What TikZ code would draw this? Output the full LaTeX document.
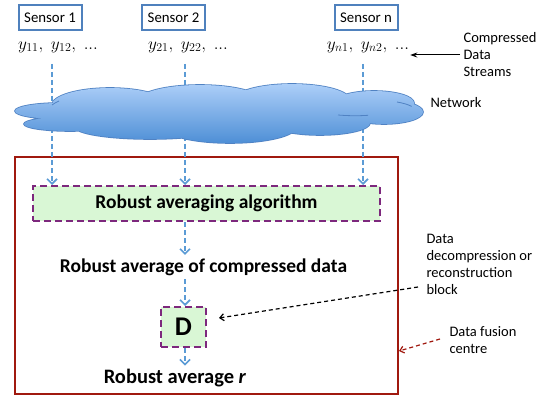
\documentclass[tikz,border=0pt]{standalone}
\usepackage{fontspec}
\setmainfont{Carlito}
\usetikzlibrary{arrows.meta,shadows}
\definecolor{sensorblue}{RGB}{79,129,189}
\definecolor{flowblue}{RGB}{91,155,213}
\definecolor{cloudtop}{RGB}{172,206,248}
\definecolor{cloudbot}{RGB}{78,143,214}
\definecolor{cloudline}{RGB}{80,130,195}
\definecolor{boxgreen}{RGB}{217,247,213}
\definecolor{boxpurple}{RGB}{125,40,125}
\definecolor{fusionred}{RGB}{160,25,15}
\newcommand{\tightdots}{{.}{.}{.}}
\begin{document}
\begin{tikzpicture}[x=1pt,y=-1pt,
  lbl/.style={font=\fontsize{14.5}{17}\selectfont},
  sensor/.style={draw=sensorblue,line width=2pt,fill=white,minimum width=63pt,
    minimum height=25pt,inner sep=0pt,font=\fontsize{14.8}{17}\selectfont,
    drop shadow={opacity=0.25,shadow xshift=1.2pt,shadow yshift=-1.2pt}},
  stream/.style={font=\fontsize{17.5}{20}\selectfont,inner sep=1pt},
  flow/.style={draw=flowblue,line width=2pt,dash pattern=on 5pt off 3pt,
    -{Straight Barb[length=5pt,width=10pt,line width=1.6pt]}},
  stage/.style={draw=boxpurple,fill=boxgreen,line width=2pt,
    dash pattern=on 7pt off 4pt},
  bold/.style={font=\fontsize{19.5}{22}\selectfont\bfseries},
  pointer/.style={line width=1.2pt,dash pattern=on 4pt off 3pt,
    -{Straight Barb[length=4pt,width=7pt]}}]
\useasboundingbox (0,0) rectangle (546,401);

% sensors and their data streams
\node[sensor] (s1) at (50,17.5) {Sensor 1};
\node[sensor] (s2) at (173.5,17.5) {Sensor 2};
\node[sensor] (sn) at (366,17.5) {Sensor n};
\node[stream] (y1) at (58,47) {$y_{11},\;y_{12},\;\tightdots$};
\node[stream] (y2) at (188,47) {$y_{21},\;y_{22},\;\tightdots$};
\node[stream] (yn) at (368,47) {$y_{n1},\;y_{n2},\;\tightdots$};

\node[lbl,anchor=west,align=left] (cds) at (460,55) {Compressed\\Data\\Streams};
\draw[-{Stealth[length=7pt,width=5pt]},line width=1pt] (cds.west) -- (cds.west -| yn.east);

% fusion centre frame
\node[draw=fusionred,line width=2pt,minimum width=383pt,minimum height=237pt,
  drop shadow={opacity=0.25,shadow xshift=1.2pt,shadow yshift=-1.2pt},fill=white]
  (fusion) at (206.5,275.5) {};

% processing stages
\node[stage,minimum width=347pt,minimum height=35pt,bold] (algo) at (206.5,203.5)
  {Robust averaging algorithm};
\node[bold] (avg) at (203.5,267) {Robust average of compressed data};
\node[stage,minimum width=45pt,minimum height=40pt,inner sep=0pt,
  font=\fontsize{27}{29}\selectfont\bfseries] (dec) at (183.5,327) {D};
\node[font=\fontsize{20.5}{23}\selectfont\bfseries] (res) at (175,378)
  {Robust average \textit{r}};

% streams travelling through the network
\coordinate (c1) at (52,64);
\coordinate (c2) at (185,64);
\coordinate (c3) at (363,64);
\draw[flow] (c1) -- (c1 |- algo.north);
\draw[flow] (c2) -- (c2 |- algo.north);
\draw[flow] (c3) -- (c3 |- algo.north);

% network cloud: union of overlapping puffs
\def\cloudpuffs{
  (60,111) ellipse [x radius=45,y radius=8]
  (70,124) ellipse [x radius=46,y radius=7]
  (110,105) ellipse [x radius=58,y radius=17]
  (200,101) ellipse [x radius=62,y radius=16]
  (292,100) ellipse [x radius=58,y radius=16]
  (374,103) ellipse [x radius=40,y radius=12]
  (384,112) ellipse [x radius=39,y radius=12]
  (150,127) ellipse [x radius=75,y radius=12]
  (230,127) ellipse [x radius=66,y radius=16]
  (320,123) ellipse [x radius=50,y radius=12]
  (220,112) ellipse [x radius=150,y radius=20]}
\draw[cloudline,line width=1.6pt] \cloudpuffs;
\shade[top color=cloudtop,bottom color=cloudbot] \cloudpuffs;
% a few visible seams between puffs
\draw[cloudline,line width=0.8pt] (52,105) arc[start angle=200,end angle=215,x radius=58,y radius=17];
\draw[cloudline,line width=0.8pt] (397,102) arc[start angle=300,end angle=330,x radius=40,y radius=12];
\draw[cloudline,line width=0.8pt] (338,115) arc[start angle=110,end angle=75,x radius=50,y radius=12];

\node[lbl,anchor=west] (netlbl) at (427,103) {Network};

\draw[flow] (algo.south -| c2) -- (avg.north -| c2);
\draw[flow] (avg.south -| c2) -- (dec.north -| c2);
\draw[flow] (dec.south -| c2) -- (res.north -| c2);

% annotations
\node[lbl,anchor=west,align=left] (dlab) at (423,264)
  {Data\\decompression or\\reconstruction\\block};
\coordinate (dtail) at (418,287);
\draw[pointer,black] (dtail) -- ([xshift=12pt,yshift=9pt]dec.east);

\node[lbl,anchor=west,align=left] (flab) at (446,340) {Data fusion\\centre};
\coordinate (ftail) at (440,339);
\draw[pointer,fusionred] (ftail) -- ([yshift=-75.5pt]fusion.east);
\end{tikzpicture}
\end{document}
